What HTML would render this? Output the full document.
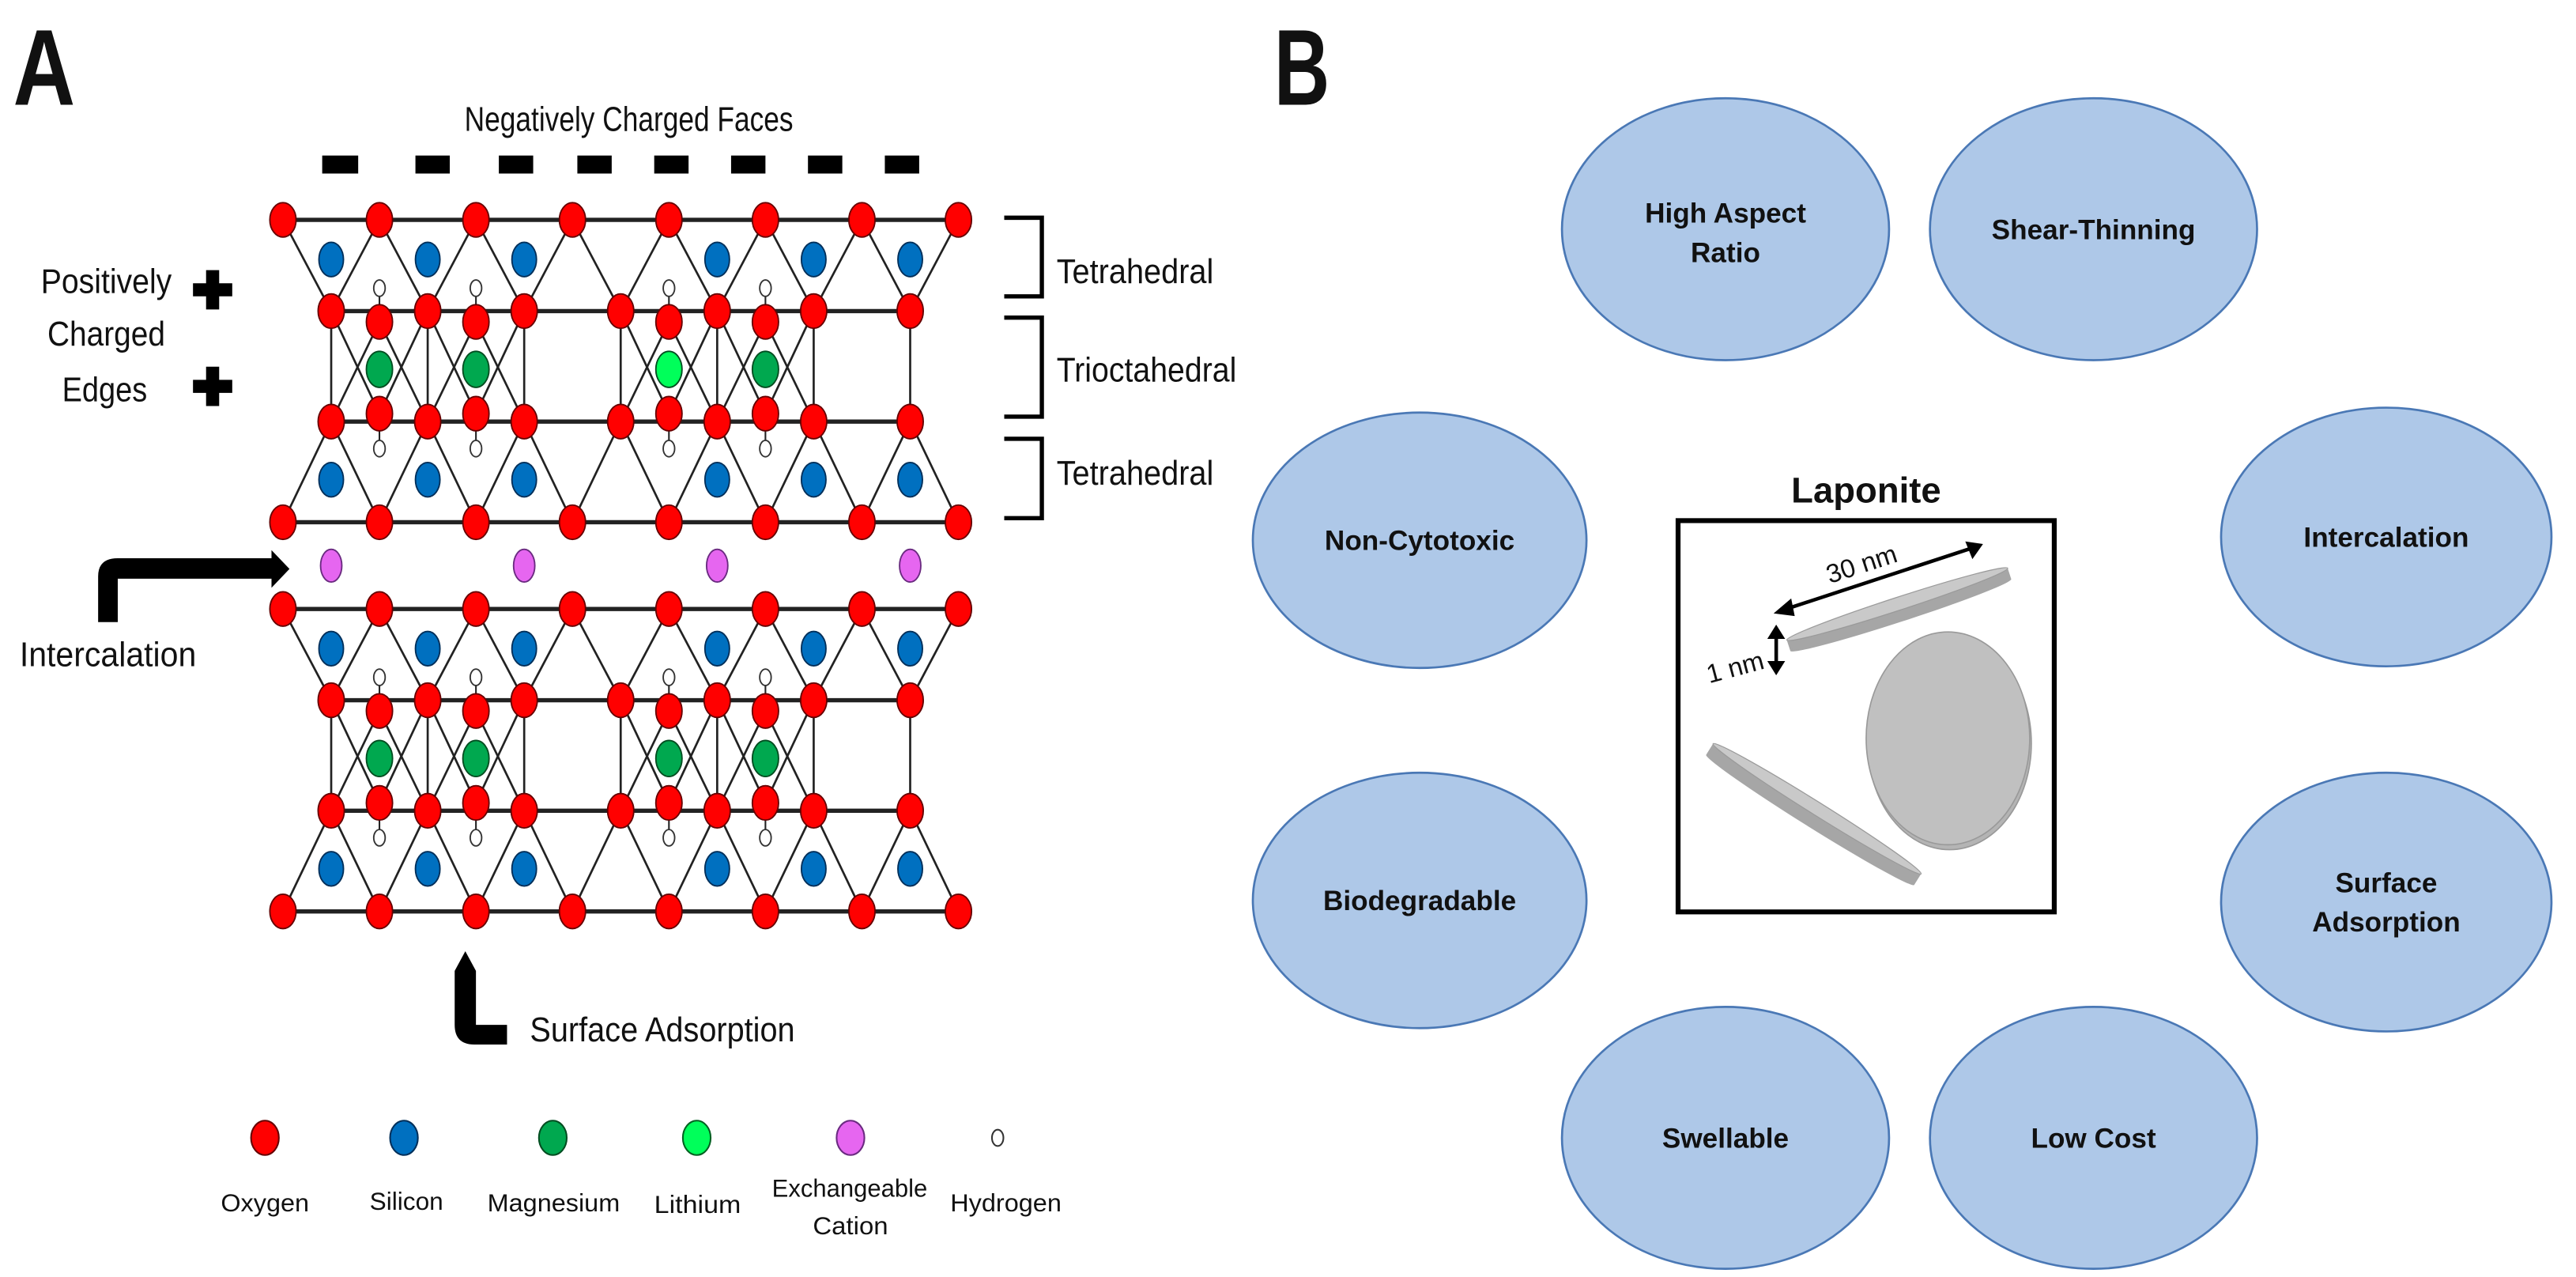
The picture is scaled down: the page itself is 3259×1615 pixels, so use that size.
<!DOCTYPE html>
<html><head><meta charset="utf-8"><style>
html,body{margin:0;padding:0;background:#fff;}
svg{display:block;}
text{font-family:"Liberation Sans",sans-serif;fill:#111;}
</style></head><body>
<svg id="s" width="3259" height="1615" viewBox="0 0 1575 780" preserveAspectRatio="none" xmlns="http://www.w3.org/2000/svg">
<rect width="1575" height="780" fill="#fff"/>
<text x="8" y="64" font-size="66" font-weight="bold" textLength="38" lengthAdjust="spacingAndGlyphs">A</text>
<text x="779" y="64" font-size="66" font-weight="bold" textLength="34" lengthAdjust="spacingAndGlyphs">B</text>
<text x="284" y="80" font-size="21" textLength="201" lengthAdjust="spacingAndGlyphs">Negatively Charged Faces</text>
<g fill="#000">
<rect x="197" y="95" width="22" height="11"/><rect x="254" y="95" width="21" height="11"/>
<rect x="305" y="95" width="21" height="11"/><rect x="353" y="95" width="21" height="11"/>
<rect x="400" y="95" width="21" height="11"/><rect x="447" y="95" width="21" height="11"/>
<rect x="494" y="95" width="21" height="11"/><rect x="541" y="95" width="21" height="11"/>
</g>
<text x="25" y="179" font-size="21" textLength="80" lengthAdjust="spacingAndGlyphs">Positively</text>
<text x="29" y="211" font-size="21" textLength="72" lengthAdjust="spacingAndGlyphs">Charged</text>
<text x="38" y="245" font-size="21" textLength="52" lengthAdjust="spacingAndGlyphs">Edges</text>
<path d="M126 165h8v8h8v8h-8v8h-8v-8h-8v-8h8z" fill="#000"/>
<path d="M126 224h8v8h8v8h-8v8h-8v-8h-8v-8h8z" fill="#000"/>
<g fill="none" stroke="#000" stroke-width="2.6">
<path d="M614 133H637V181H614"/><path d="M614 194H637V254.5H614"/><path d="M614 268H637V316.5H614"/>
</g>
<text x="646" y="173" font-size="21" textLength="96" lengthAdjust="spacingAndGlyphs">Tetrahedral</text>
<text x="646" y="233" font-size="21" textLength="110" lengthAdjust="spacingAndGlyphs">Trioctahedral</text>
<text x="646" y="296" font-size="21" textLength="96" lengthAdjust="spacingAndGlyphs">Tetrahedral</text>
<g id="lat"></g>
<!-- intercalation arrow -->
<path d="M60 380 V352 Q60 341 72 341 H166 V336 L177 347.5 L166 359 V353.5 H72 Q72 353.5 72 360 V380 Z" fill="#000"/>
<text x="12" y="407" font-size="21" textLength="108" lengthAdjust="spacingAndGlyphs">Intercalation</text>
<!-- surface adsorption arrow -->
<path d="M284.5 581 L291 593 H291 V626 H310 V638 H290 Q278 638 278 626 V593 Z" fill="#000"/>
<text x="324" y="636" font-size="21" textLength="162" lengthAdjust="spacingAndGlyphs">Surface Adsorption</text>
<!-- legend -->
<g stroke-width="1">
<ellipse cx="162" cy="695" rx="8.5" ry="10.5" fill="#f00" stroke="#600"/>
<ellipse cx="247" cy="695" rx="8.5" ry="10.5" fill="#0070c0" stroke="#002f5a"/>
<ellipse cx="338" cy="695" rx="8.5" ry="10.5" fill="#00a84f" stroke="#004d20"/>
<ellipse cx="426" cy="695" rx="8.5" ry="10.5" fill="#00ff5a" stroke="#006020"/>
<ellipse cx="520" cy="695" rx="8.5" ry="10.5" fill="#e666f0" stroke="#6a2a80"/>
<ellipse cx="610" cy="695" rx="3.5" ry="5" fill="#fff" stroke="#333"/>
</g>
<g font-size="15">
<text x="135" y="740" textLength="54" lengthAdjust="spacingAndGlyphs">Oxygen</text>
<text x="226" y="739" textLength="45" lengthAdjust="spacingAndGlyphs">Silicon</text>
<text x="298" y="740" textLength="81" lengthAdjust="spacingAndGlyphs">Magnesium</text>
<text x="400" y="741" textLength="53" lengthAdjust="spacingAndGlyphs">Lithium</text>
<text x="472" y="731" textLength="95" lengthAdjust="spacingAndGlyphs">Exchangeable</text>
<text x="497" y="754" textLength="46" lengthAdjust="spacingAndGlyphs">Cation</text>
<text x="581" y="740" textLength="68" lengthAdjust="spacingAndGlyphs">Hydrogen</text>
</g>
<!-- panel B -->
<g fill="#aec8e8" stroke="#4a78b5" stroke-width="1.3">
<ellipse cx="1055" cy="140" rx="100" ry="80"/>
<ellipse cx="1280" cy="140" rx="100" ry="80"/>
<ellipse cx="868" cy="330" rx="102" ry="78"/>
<ellipse cx="1459" cy="328" rx="101" ry="79"/>
<ellipse cx="868" cy="550" rx="102" ry="78"/>
<ellipse cx="1459" cy="551" rx="101" ry="79"/>
<ellipse cx="1055" cy="695" rx="100" ry="80"/>
<ellipse cx="1280" cy="695" rx="100" ry="80"/>
</g>
<g font-size="17" font-weight="bold" text-anchor="middle">
<text x="1055" y="136">High Aspect</text><text x="1055" y="160">Ratio</text>
<text x="1280" y="146">Shear-Thinning</text>
<text x="868" y="336">Non-Cytotoxic</text>
<text x="1459" y="334">Intercalation</text>
<text x="868" y="556">Biodegradable</text>
<text x="1459" y="545">Surface</text><text x="1459" y="569">Adsorption</text>
<text x="1055" y="701">Swellable</text>
<text x="1280" y="701">Low Cost</text>
</g>
<text x="1141" y="307" font-size="22" font-weight="bold" text-anchor="middle">Laponite</text>
<rect x="1026" y="318" width="230" height="239" fill="#fff" stroke="#000" stroke-width="3"/>
<!-- discs -->
<g transform="rotate(-18 1160 369)">
<rect x="1089" y="369" width="142" height="7" fill="#a6a6a6"/>
<ellipse cx="1160" cy="376" rx="71" ry="4" fill="#a6a6a6"/>
<ellipse cx="1160" cy="369" rx="71" ry="4" fill="#c9c9c9" stroke="#9a9a9a" stroke-width="0.6"/>
</g>
<g transform="rotate(32 1111 494)">
<rect x="1036" y="494" width="150" height="8" fill="#a6a6a6"/>
<ellipse cx="1111" cy="502" rx="75" ry="4" fill="#a6a6a6"/>
<ellipse cx="1111" cy="494" rx="75" ry="4" fill="#c9c9c9" stroke="#9a9a9a" stroke-width="0.6"/>
</g>
<ellipse cx="1192" cy="454" rx="50" ry="65" fill="#b4b4b4" stroke="#999" stroke-width="0.8"/>
<ellipse cx="1191" cy="451" rx="50" ry="65" fill="#c0c0c0" stroke="#999" stroke-width="0.8"/>
<!-- 30nm arrow -->
<g stroke="#000" stroke-width="2.2" fill="#000">
<line x1="1089" y1="373" x2="1208" y2="334"/>
<path d="M1085 374.5 L1095 366 L1097 376 Z" stroke-width="0.5"/>
<path d="M1212 332.5 L1202 331 L1206 341 Z" stroke-width="0.5"/>
<line x1="1086" y1="388" x2="1086" y2="406"/>
<path d="M1086 382 L1081 390 L1091 390 Z" stroke-width="0.5"/>
<path d="M1086 412 L1081 404 L1091 404 Z" stroke-width="0.5"/>
</g>
<text x="1138" y="350" font-size="16" text-anchor="middle" transform="rotate(-18 1138 344)">30 nm</text>
<text x="1061" y="413" font-size="16" text-anchor="middle" transform="rotate(-15 1061 408)">1 nm</text>
</svg>
<script>
(function(){
var NS="http://www.w3.org/2000/svg",g=document.getElementById("lat"),out=[];
function L(x1,y1,x2,y2,w,c){out.push('<line x1="'+x1+'" y1="'+y1+'" x2="'+x2+'" y2="'+y2+'" stroke="'+(c||"#222")+'" stroke-width="'+w+'"/>');}
function E(x,y,rx,ry,f,s){out.push('<ellipse cx="'+x+'" cy="'+y+'" rx="'+rx+'" ry="'+ry+'" fill="'+f+'" stroke="'+s+'" stroke-width="0.9"/>');}
var sp=59,c0=173,c=[],m=[];
for(var i=0;i<8;i++)c.push(c0+sp*i);
for(var i=0;i<7;i++)m.push(c0+sp*i+sp/2);
var oct=[1,2,4,5];
function slab(dy,li){
 var T=134.3+dy,Si=158.5+dy,H1=176+dy,R2=190+dy,OU=196.6+dy,G=225.6+dy,OL=252.7+dy,R3=257.5+dy,H2=274+dy,Si2=293+dy,B=319+dy;
 L(c[0],T,c[7],T,2.6);L(c[0],B,c[7],B,2.6);L(m[0],R2,m[6],R2,2.6);L(m[0],R3,m[6],R3,2.6);
 for(var i=0;i<8;i++){ if(i>0){L(c[i],T,m[i-1],R2,1.3);L(m[i-1],R3,c[i],B,1.3);} if(i<7){L(c[i],T,m[i],R2,1.3);L(m[i],R3,c[i],B,1.3);} }
 for(var i=0;i<7;i++)L(m[i],R2,m[i],R3,1.3);
 oct.forEach(function(k){var x=c[k];
  L(m[k-1],R2,x,OL,1.3);L(m[k],R2,x,OL,1.3);L(x,OU,m[k-1],R3,1.3);L(x,OU,m[k],R3,1.3);
  L(x,H1,x,OU,1);L(x,OL,x,H2,1);});
 for(var i=0;i<8;i++){E(c[i],T,8,10.5,"#f00","#600");E(c[i],B,8,10.5,"#f00","#600");}
 for(var i=0;i<7;i++){if(i!=3){E(m[i],Si,7.5,10.5,"#0070c0","#002f5a");E(m[i],Si2,7.5,10.5,"#0070c0","#002f5a");}}
 for(var i=0;i<7;i++){E(m[i],R2,8,10.5,"#f00","#600");E(m[i],R3,8,10.5,"#f00","#600");}
 oct.forEach(function(k){var x=c[k];
  E(x,H1,3.5,5,"#fff","#333");E(x,H2,3.5,5,"#fff","#333");
  E(x,OU,8,10.5,"#f00","#600");E(x,OL,8,10.5,"#f00","#600");
  E(x,G,8,11,(li&&k==4)?"#00ff5a":"#00a84f","#004d20");});
}
slab(0,true);slab(237.7,false);
[m[0],m[2],m[4],m[6]].forEach(function(x){E(x,345.5,6.5,10,"#e666f0","#6a2a80");});
g.innerHTML=out.join("");
})();
</script>
</body></html>
